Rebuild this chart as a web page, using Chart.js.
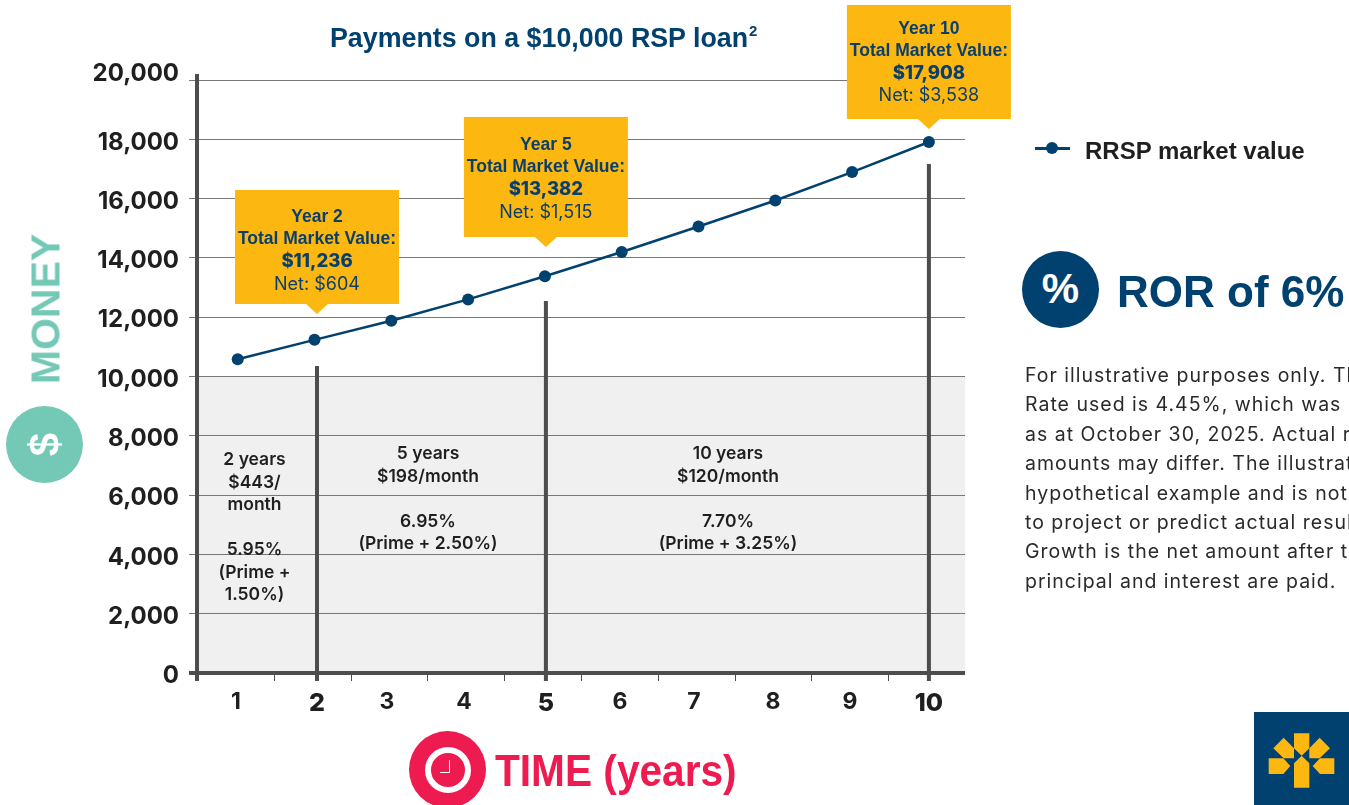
<!DOCTYPE html>
<html>
<head>
<meta charset="utf-8">
<title>Payments on a $10,000 RSP loan</title>
<script src="https://cdn.jsdelivr.net/npm/chart.js@4"></script>
<style>
  html, body { margin: 0; padding: 0; background: #fff; }
  body { width: 1349px; height: 805px; overflow: hidden; position: relative; font-family: "Liberation Sans", sans-serif; }
  canvas { position: absolute; left: 0; top: 0; }
  .abs { position: absolute; white-space: nowrap; }
  #title { left: 330px; top: 22px; font-size: 26.8px; line-height: 32px; font-weight: 700; color: #00416f; }
  #title sup { font-size: 15px; line-height: 0; vertical-align: 11px; margin-left: 1px; }
  #legendLine { left: 1035px; top: 147px; width: 35px; height: 3px; background: #00416f; }
  #legendDot { left: 1046px; top: 142px; width: 12px; height: 12px; border-radius: 50%; background: #00416f; }
  #legendText { left: 1085px; top: 137px; font-size: 24px; line-height: 28px; font-weight: 700; color: #1f1f1f; }
  .circle { position: absolute; border-radius: 50%; width: 77px; height: 77px; color: #fff; text-align: center; }
  #rorCircle { left: 1022px; top: 251px; background: #00416f; font-size: 42px; line-height: 76px; font-weight: 700; }
  #rorText { left: 1117px; top: 267px; font-size: 44px; line-height: 50px; font-weight: 700; color: #00416f; }
  #notes { left: 1025px; top: 361px; font-family: Inter, sans-serif; font-size: 19.5px; letter-spacing: 1px; line-height: 29.4px; color: #2a2a2a; }
  #moneyText { left: 46px; top: 309px; font-size: 41px; line-height: 41px; font-weight: 700; color: #74c8b6; transform: translate(-50%, -50%) rotate(-90deg); }
  #moneyCircle { left: 6px; top: 406px; background: #74c8b6; font-size: 42px; line-height: 77px; font-weight: 700; transform: rotate(-90deg); }
  #timeCircle { left: 409px; top: 731px; background: #ee1b50; }
  #timeRing { position: absolute; left: 16px; top: 16px; width: 34px; height: 34px; border: 6px solid #fff; border-radius: 50%; }
  #timeHand { position: absolute; left: 31px; top: 29px; width: 9px; height: 12px; border-right: 1px solid #fff; border-bottom: 1px solid #fff; }
  #timeText { left: 495px; top: 744px; font-size: 45px; line-height: 54px; font-weight: 700; color: #ee1b50; transform: scaleX(0.903); transform-origin: left center; }
  #logo { left: 1254px; top: 712px; width: 95px; height: 93px; }
</style>
</head>
<body>
<canvas id="loanChart" width="1349" height="805"></canvas>

<div class="abs" id="title">Payments on a $10,000 RSP loan<sup>2</sup></div>

<div class="abs" id="legendLine"></div>
<div class="abs" id="legendDot"></div>
<div class="abs" id="legendText">RRSP market value</div>

<div class="circle" id="rorCircle">%</div>
<div class="abs" id="rorText">ROR of 6%</div>
<div class="abs" id="notes"></div>

<div class="abs" id="moneyText">MONEY</div>
<div class="circle" id="moneyCircle">$</div>

<div class="circle" id="timeCircle"><div id="timeRing"></div><div id="timeHand"></div></div>
<div class="abs" id="timeText">TIME (years)</div>

<svg class="abs" id="logo" viewBox="762 1086 285 279">
  <rect x="762" y="1086" width="285" height="279" fill="#00416f"></rect>
  <g fill="#fcb711">
    <polygon points="882,1150 928,1150 928,1195 905,1217 882,1195"></polygon>
    <polygon points="820,1195 851,1163 882,1195 882,1225 851,1225"></polygon>
    <polygon points="990,1195 959,1163 928,1195 928,1225 959,1225"></polygon>
    <polygon points="806,1225 850,1225 871,1248 850,1272 806,1272"></polygon>
    <polygon points="1003,1225 960,1225 938,1248 960,1272 1003,1272"></polygon>
    <polygon points="905,1217 928,1240 928,1313 882,1313 882,1240"></polygon>
  </g>
</svg>

<script>
const years = [1, 2, 3, 4, 5, 6, 7, 8, 9, 10];
const marketValues = [10580, 11236, 11880, 12600, 13382, 14200, 15060, 15935, 16895, 17908];
const seriesLabel = "RRSP market value";
const loanAmount = 10000;
const boldYears = [2, 5, 10];

// callouts
const calloutYears = [2, 5, 10];
const calloutTotals = ["$11,236", "$13,382", "$17,908"];
const calloutNets = ["Net: $604", "Net: $1,515", "Net: $3,538"];
const calloutTips = [12108, 14368, 18347];
const dropLineTops = [10354, 12546, 17165];

// terms written inside the grey band
const termLines = [
  ["2 years", "$443/", "month", "", "5.95%", "(Prime +", "1.50%)"],
  ["5 years", "$198/month", "", "6.95%", "(Prime + 2.50%)"],
  ["10 years", "$120/month", "", "7.70%", "(Prime + 3.25%)"],
];

const noteLines = [
  "For illustrative purposes only. Th",
  "Rate used is 4.45%, which was",
  "as at October 30, 2025. Actual r",
  "amounts may differ. The illustrat",
  "hypothetical example and is not",
  "to project or predict actual resul",
  "Growth is the net amount after t",
  "principal and interest are paid.",
];

// layout and style, kept apart from the values above
const layoutStyle = {
  calloutHeights: [114, 120, 114],
  calloutShift: [2.5, 1, 0],
  calloutTextShift: [3.5, 1.5, 0],
  termCenters: [1.219, 3.478, 7.384],
  termTops: [7176, 7390, 7390],
  tickPositions: [0.978, 2.032, 2.944, 3.946, 5.014, 5.978, 6.94, 7.97, 8.973, 10],
};

const navy = "#00416f";
const axisGrey = "#4d4d4d";
const tickFontFamily = "Inter, sans-serif";

document.getElementById("notes").innerHTML = noteLines.join("<br>");

// grey band under the grid
const bandPlugin = {
  id: "band",
  beforeDraw(chart) {
    const { ctx, chartArea, scales } = chart;
    const top = scales.y.getPixelForValue(loanAmount);
    ctx.save();
    ctx.fillStyle = "#f0f0f0";
    ctx.fillRect(chartArea.left, top, chartArea.right - chartArea.left, chartArea.bottom - top);
    ctx.restore();
  },
};

// heavy axes, between-year ticks, drop lines and band text
const framePlugin = {
  id: "frame",
  beforeDatasetsDraw(chart) {
    const { ctx, chartArea, scales } = chart;
    const x = scales.x;
    const y = scales.y;
    ctx.save();

    ctx.strokeStyle = axisGrey;
    ctx.lineWidth = 1;
    for (let i = 1; i < 10; i++) {
      const px = Math.round(x.getPixelForValue(x.min + i)) + 0.5;
      ctx.beginPath();
      ctx.moveTo(px, chartArea.bottom);
      ctx.lineTo(px, chartArea.bottom + 8);
      ctx.stroke();
    }

    ctx.lineWidth = 4;
    ctx.beginPath();
    ctx.moveTo(chartArea.left - 8, chartArea.bottom);
    ctx.lineTo(chartArea.right, chartArea.bottom);
    ctx.moveTo(chartArea.left, chartArea.top - 6);
    ctx.lineTo(chartArea.left, chartArea.bottom + 8);
    calloutYears.forEach(function (year, i) {
      const px = x.getPixelForValue(year) + layoutStyle.calloutShift[i];
      ctx.moveTo(px, y.getPixelForValue(dropLineTops[i]));
      ctx.lineTo(px, chartArea.bottom + 8);
    });
    ctx.stroke();

    ctx.fillStyle = "#1f1f1f";
    ctx.font = "600 17.5px Inter, sans-serif";
    ctx.textAlign = "center";
    ctx.textBaseline = "middle";
    termLines.forEach(function (lines, i) {
      const px = x.getPixelForValue(layoutStyle.termCenters[i]);
      const top = y.getPixelForValue(layoutStyle.termTops[i]);
      lines.forEach(function (line, j) {
        ctx.fillText(line, px, top + j * 22.5);
      });
    });
    ctx.restore();
  },
  afterDraw(chart) {
    const { ctx, scales } = chart;
    const x = scales.x;
    const y = scales.y;
    ctx.save();
    ctx.textAlign = "center";
    ctx.textBaseline = "middle";
    calloutYears.forEach(function (year, i) {
      const cx = x.getPixelForValue(year) + layoutStyle.calloutShift[i];
      const tip = y.getPixelForValue(calloutTips[i]);
      const height = layoutStyle.calloutHeights[i];
      const bottom = tip - 10;
      const top = bottom - height;
      ctx.fillStyle = "#fcb711";
      ctx.fillRect(cx - 82, top, 164, height);
      ctx.beginPath();
      ctx.moveTo(cx - 11, bottom);
      ctx.lineTo(cx + 11, bottom);
      ctx.lineTo(cx, tip);
      ctx.closePath();
      ctx.fill();

      const mid = top + height / 2 + layoutStyle.calloutTextShift[i];
      ctx.fillStyle = "#0b3f6b";
      ctx.font = "700 17.5px 'Liberation Sans', sans-serif";
      ctx.fillText("Year " + year, cx, mid - 33);
      ctx.fillText("Total Market Value:", cx, mid - 11);
      ctx.font = "800 18.5px Inter, sans-serif";
      ctx.fillText(calloutTotals[i], cx, mid + 11);
      ctx.font = "400 18px Inter, sans-serif";
      ctx.fillText(calloutNets[i], cx, mid + 34);
    });
    ctx.restore();
  },
};

new Chart(document.getElementById("loanChart"), {
  type: "line",
  data: {
    datasets: [
      {
        label: seriesLabel,
        data: years.map(function (year, i) {
          return { x: year, y: marketValues[i] };
        }),
        borderColor: navy,
        backgroundColor: navy,
        borderWidth: 2.5,
        pointRadius: 6,
        pointBackgroundColor: navy,
        pointBorderWidth: 0,
        tension: 0,
      },
    ],
  },
  plugins: [bandPlugin, framePlugin],
  options: {
    responsive: false,
    animation: false,
    layout: { padding: { left: 0, right: 384, top: 80, bottom: 0 } },
    plugins: { legend: { display: false }, title: { display: false }, tooltip: { enabled: false } },
    scales: {
      x: {
        type: "linear",
        min: 0.47,
        max: 10.47,
        afterBuildTicks: function (scale) {
          scale.ticks = layoutStyle.tickPositions.map(function (position) {
            return { value: position };
          });
        },
        afterFit: function (scale) {
          scale.height = 132;
        },
        grid: { display: false },
        border: { display: false },
        ticks: {
          autoSkip: false,
          maxRotation: 0,
          padding: 7,
          color: "#1f1f1f",
          callback: function (value, index) {
            return String(years[index]);
          },
          font: function (context) {
            const isBold = boldYears.includes(years[context.index]);
            return { family: tickFontFamily, size: isBold ? 25 : 23, weight: isBold ? 800 : 700 };
          },
        },
      },
      y: {
        min: 0,
        max: 20000,
        afterFit: function (scale) {
          scale.width = 197;
        },
        grid: { color: "#777777", lineWidth: 1, tickLength: 8 },
        border: { display: false },
        ticks: {
          stepSize: 2000,
          padding: 10,
          labelOffset: 3,
          color: "#1f1f1f",
          font: { family: tickFontFamily, size: 24, weight: 700, lineHeight: 0.78 },
          callback: function (value) {
            const label = value.toLocaleString("en-US");
            // top label sits higher than its grid line
            return value === 20000 ? [label, ""] : label;
          },
        },
      },
    },
  },
});
</script>
</body>
</html>
